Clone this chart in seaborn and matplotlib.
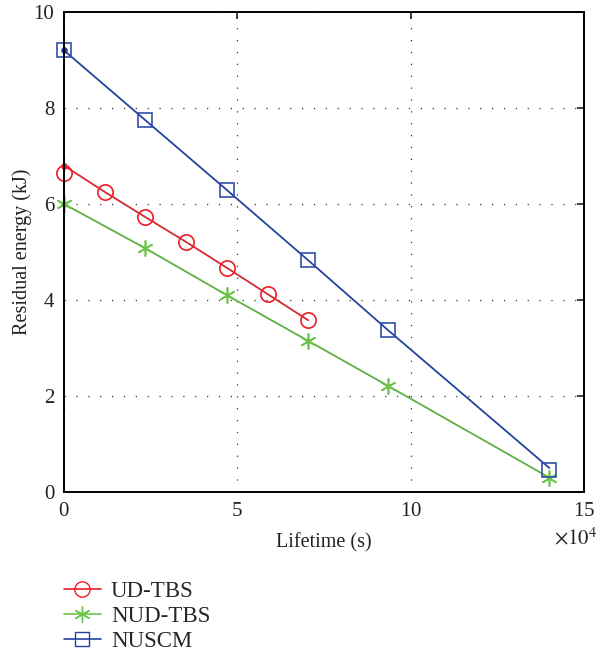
import matplotlib
matplotlib.use("Agg")
import matplotlib.pyplot as plt
import seaborn as sns
import numpy as np
from matplotlib.lines import Line2D
from matplotlib.ticker import ScalarFormatter

# ---- data (lifetime in seconds, residual energy in kJ) ----
ud_line_x = [0, 11800, 23400, 35200, 47000, 58800, 70400]
ud_line_y = [6.80, 6.25, 5.73, 5.21, 4.67, 4.12, 3.58]
ud_mark_x = [0, 11800, 23400, 35200, 47000, 58800, 70400]
ud_mark_y = [6.65, 6.25, 5.73, 5.21, 4.67, 4.12, 3.58]

nud_line_x = [0, 23400, 47000, 70400, 93500, 140000]
nud_line_y = [6.00, 5.08, 4.10, 3.15, 2.21, 0.30]
nud_mark_x = [0, 23400, 47000, 70400, 93500, 140000]
nud_mark_y = [6.00, 5.08, 4.10, 3.15, 2.21, 0.30]

nus_line_x = [0, 23400, 47000, 70400, 93500, 140000]
nus_line_y = [9.20, 7.75, 6.29, 4.83, 3.37, 0.50]
nus_mark_x = [0, 23400, 47000, 70400, 93500, 140000]
nus_mark_y = [9.20, 7.76, 6.29, 4.83, 3.37, 0.46]

labels = ["UD-TBS", "NUD-TBS", "NUSCM"]
xticks = [0, 50000, 100000, 150000]
yticks = [0, 2, 4, 6, 8, 10]

sns.set_theme(style="white")
plt.rcParams["font.family"] = ["Liberation Serif", "DejaVu Serif"]
plt.rcParams["mathtext.fontset"] = "stix"

red_line, red_mk = "#d42a35", "#ee1c25"
green_line, green_mk = "#5fb043", "#6cc24a"
blue_line, blue_mk = "#2443a0", "#3050a8"
star = (6, 2, 0)

fig = plt.figure(figsize=(6.02, 6.54), dpi=100)
ax = fig.add_axes([64/602, 1-492/654, 520/602, 480/654])

series = [
    (ud_line_x, ud_line_y, ud_mark_x, ud_mark_y, red_line, red_mk, "o", 11),
    (nud_line_x, nud_line_y, nud_mark_x, nud_mark_y, green_line, green_mk, star, 11.5),
    (nus_line_x, nus_line_y, nus_mark_x, nus_mark_y, blue_line, blue_mk, "s", 10),
]

for lx, ly, mx, my, lc, mc, mk, ms in series:
    sns.lineplot(x=lx, y=ly, ax=ax, color=lc, lw=1.3, sort=False, estimator=None)
    # small dot at line start
    sns.lineplot(x=lx[:1], y=ly[:1], ax=ax, color=lc, marker="o", markersize=4,
                 linestyle="none", markeredgecolor=lc, estimator=None, clip_on=False)
    sns.lineplot(x=mx, y=my, ax=ax, color=mc, marker=mk, markersize=ms,
                 linestyle="none", markerfacecolor="none", markeredgecolor=mc,
                 markeredgewidth=1.2, estimator=None, clip_on=False)

ax.set_xlim(0, 150000)
ax.set_ylim(0, 10)
ax.set_xticks(xticks)
ax.set_yticks(yticks)
fmt = ScalarFormatter(useMathText=True)
fmt.set_powerlimits((4, 4))
ax.xaxis.set_major_formatter(fmt)
ax.xaxis.get_offset_text().set_visible(False)
ax.text(1.025, -0.098, r"$\times10^{4}$", transform=ax.transAxes, ha="right",
        va="center", fontsize=15, color="#222222")

ax.grid(True, linestyle=(0, (1, 8.5)), color="#333333", linewidth=0.9)
for s in ax.spines.values():
    s.set_color("black")
    s.set_linewidth(1.4)
ax.tick_params(direction="in", length=5, width=1.2, top=True, right=True,
               labelsize=15, colors="#222222", pad=7)
ax.set_xlabel("Lifetime (s)", fontsize=14.5, color="#222222", labelpad=9)
ax.set_ylabel("Residual energy (kJ)", fontsize=14.5, color="#222222", labelpad=1)

handles = [
    Line2D([], [], color=red_mk, marker="o", markersize=11, mfc="none", lw=1.2),
    Line2D([], [], color=green_mk, marker=star, markersize=11.5, lw=1.2),
    Line2D([], [], color=blue_line, marker="s", markersize=10, mfc="none", lw=1.2),
]
fig.legend(handles, labels, loc="lower left", bbox_to_anchor=(64/602, 0.003),
           frameon=False, fontsize=16.5, handlelength=1.6, labelspacing=0.17,
           handletextpad=0.45, borderpad=0, borderaxespad=0)

fig.savefig("out.png", dpi=100)
